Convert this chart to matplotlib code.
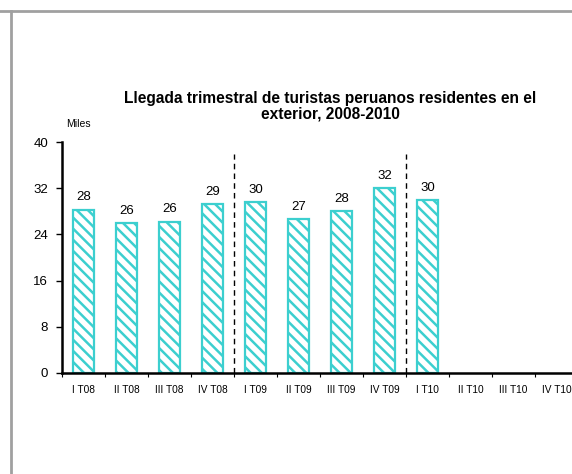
import numpy as np
import matplotlib
matplotlib.use('Agg')
import matplotlib.pyplot as plt
from matplotlib.lines import Line2D

plt.rcParams['font.family'] = ['Liberation Sans', 'DejaVu Sans']
plt.rcParams['hatch.linewidth'] = 1.8

# data
trimestres = ['I T08', 'II T08', 'III T08', 'IV T08',
              'I T09', 'II T09', 'III T09', 'IV T09',
              'I T10', 'II T10', 'III T10', 'IV T10']
llegadas = [28.3, 26.0, 26.2, 29.2, 29.6, 26.6, 28.0, 32.0, 29.9]
etiquetas = ['28', '26', '26', '29', '30', '27', '28', '32', '30']
separadores = [3.5, 7.5]
cian = '#3CCFCF'

fig = plt.figure(figsize=(5.72, 4.74), dpi=100)
ax = fig.add_axes([0.1085, 0.2131, 0.902, 0.4873])

x = np.arange(len(llegadas))
bars = ax.bar(x, llegadas, width=0.5, color='white', edgecolor=cian,
              linewidth=1.6, hatch='\\\\\\')
for b, lab in zip(bars, etiquetas):
    ax.annotate(lab, (b.get_x() + b.get_width() / 2, b.get_height()),
                xytext=(0, 4.5), textcoords='offset points',
                ha='center', va='bottom', fontsize=9.5)

for s in separadores:
    ax.plot([s, s], [0, 38], color='black', linestyle=(0, (4, 3)), linewidth=1)

ax.set_xlim(-0.5, len(trimestres) - 0.5)
ax.set_ylim(0, 40)
ax.set_yticks(range(0, 41, 8))
ax.tick_params(axis='y', labelsize=9.5, length=4, width=1, pad=6)

ax.set_xticks(np.arange(len(trimestres) + 1) - 0.5)
ax.set_xticklabels([])
ax.set_xticks(np.arange(len(trimestres)), minor=True)
ax.set_xticklabels(trimestres, minor=True, fontsize=7.3)
ax.tick_params(axis='x', which='major', length=3, width=0.8)
ax.tick_params(axis='x', which='minor', length=0, pad=9)

for side in ['top', 'right']:
    ax.spines[side].set_visible(False)
ax.spines['left'].set_linewidth(1.8)
ax.spines['bottom'].set_linewidth(1.8)

fig.text(0.577, 0.776, 'Llegada trimestral de turistas peruanos residentes en el\nexterior, 2008-2010',
         ha='center', va='center', fontsize=11.2, fontweight='bold', linespacing=1.05)
fig.text(0.116, 0.738, 'Miles', ha='left', va='center', fontsize=7.5)

# marco gris
fig.add_artist(Line2D([0, 1], [1 - 11 / 474, 1 - 11 / 474], color='#A0A0A0', linewidth=2))
fig.add_artist(Line2D([11 / 572, 11 / 572], [0, 1 - 11 / 474], color='#A0A0A0', linewidth=2))

fig.savefig('out.png', dpi=100)
